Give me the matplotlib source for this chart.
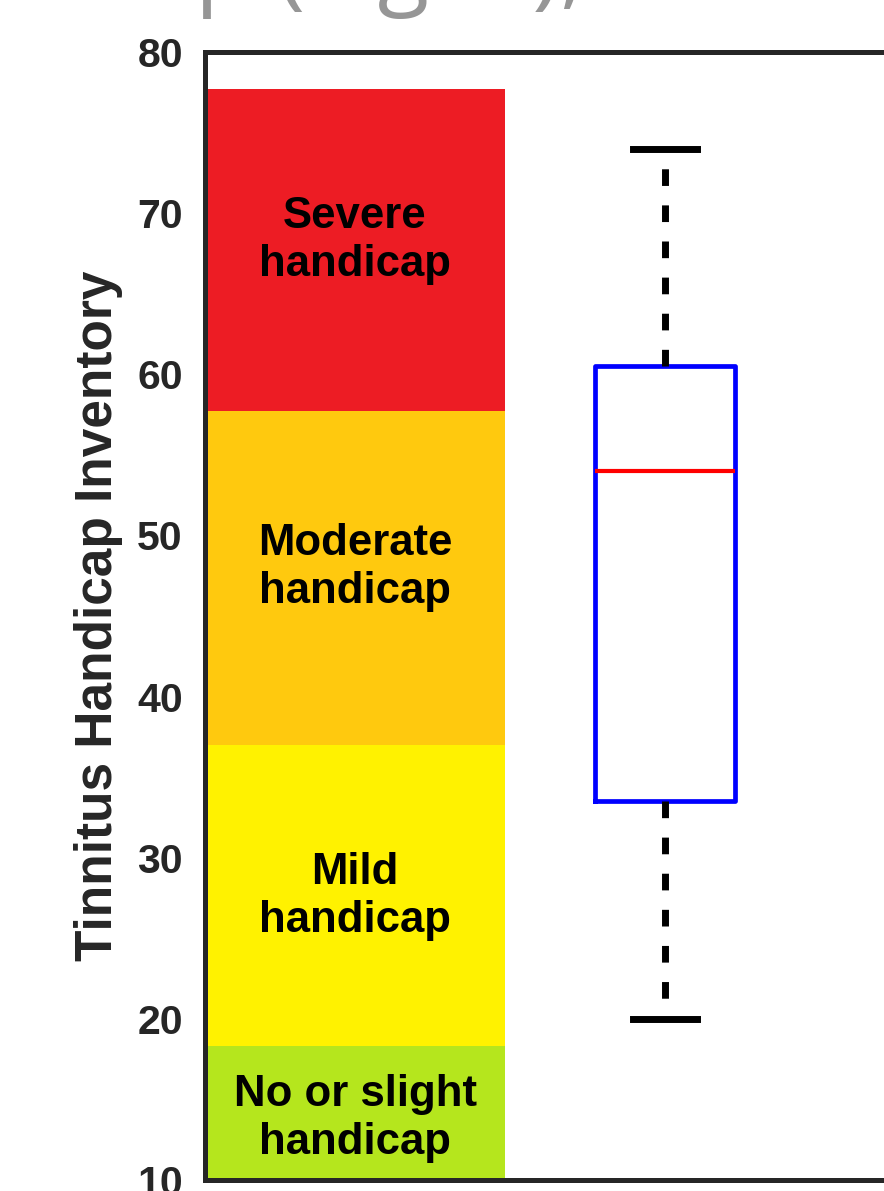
import matplotlib
matplotlib.use("Agg")
import matplotlib.pyplot as plt

# severity bands of the Tinnitus Handicap Inventory
band_names = ["No or slight\nhandicap", "Mild\nhandicap", "Moderate\nhandicap", "Severe\nhandicap"]
band_low = [0, 18.3, 37, 57.7]
band_high = [18.3, 37, 57.7, 77.7]
band_colors = ["#B5E61D", "#FFF200", "#FFC90E", "#ED1C24"]
label_y = [13.8, 27.6, 48.0, 68.3]

# box plot summary
box_stats = {"whislo": 20, "q1": 33.5, "med": 54, "q3": 60.5, "whishi": 74}

yticks = [10, 20, 30, 40, 50, 60, 70, 80]

fig = plt.figure(figsize=(8.84, 11.91), dpi=100)
ax = fig.add_axes([205 / 884, 11 / 1191, 900 / 884, 1128 / 1191])

# colored bands on the left
for lo, hi, c in zip(band_low, band_high, band_colors):
    ax.bar(0, hi - lo, bottom=lo, width=1, align="edge", color=c, zorder=1)

for name, y in zip(band_names, label_y):
    ax.text(0.5, y, name, ha="center", va="center", fontsize=31.5,
            fontweight="bold", family="Liberation Sans", color="black",
            linespacing=1.22, zorder=3)

# the box plot itself
ax.bxp([box_stats], positions=[1.533], widths=0.467, capwidths=0.215,
       showfliers=False,
       boxprops=dict(color="#0000FF", linewidth=3.4),
       medianprops=dict(color="#FF0000", linewidth=3.0),
       whiskerprops=dict(color="black", linewidth=5, linestyle=(0, (2.4, 2.8))),
       capprops=dict(color="black", linewidth=5),
       manage_ticks=False)

ax.set_xlim(0, 3)
ax.set_ylim(10, 80)
ax.set_xticks([])
ax.set_yticks(yticks)
ax.tick_params(axis="y", length=0, pad=16, colors="#262626")
for t in ax.get_yticklabels():
    t.set_fontsize(29.5)
    t.set_fontweight("bold")
    t.set_family("Liberation Sans")

for s in ax.spines.values():
    s.set_linewidth(3.6)
    s.set_color("#262626")

ax.set_ylabel("Tinnitus Handicap Inventory", fontsize=37, fontweight="bold",
              family="Liberation Sans", color="#262626")
ax.yaxis.set_label_coords(-0.091, 0.5)

# caption text above, mostly cut off by the crop
fig.text(195 / 884, 1 + 3 / 1191, "p (Fig. 1),", fontsize=68, family="Open Sans",
         color="#969696", ha="left", va="baseline")

fig.savefig("out.png", dpi=100)
